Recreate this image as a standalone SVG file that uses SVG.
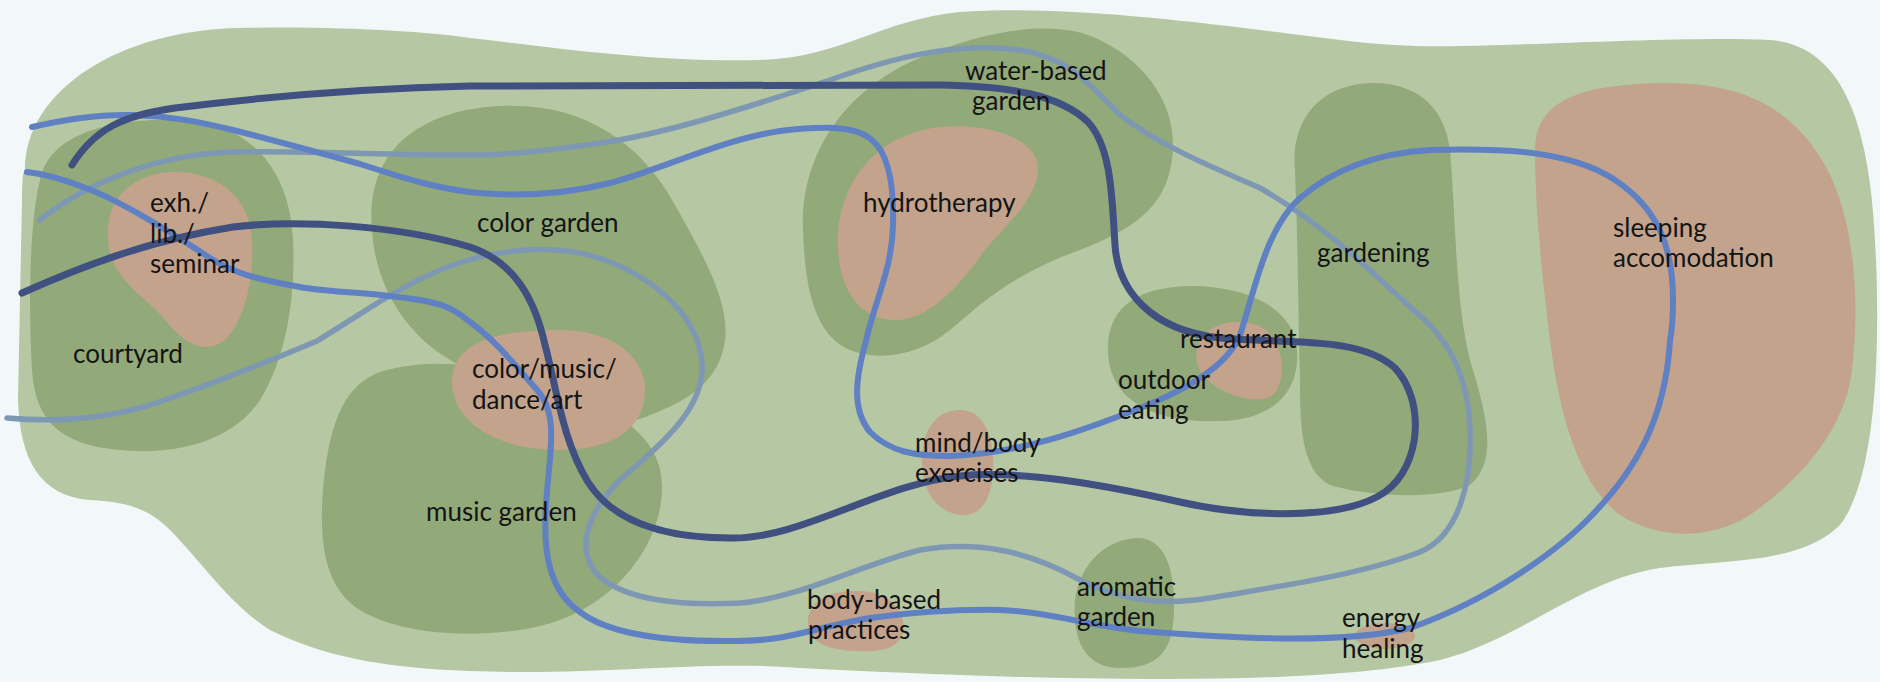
<svg xmlns="http://www.w3.org/2000/svg" width="1880" height="682" viewBox="0 0 1880 682">
<style>
.site{fill:#b6c7a3}
.zone{fill:#92a97a}
.core{fill:#c3a38c}
.path{fill:none;stroke-linecap:round;stroke-linejoin:round}
.navy{stroke:#3f5081;stroke-width:7}
.mid{stroke:#6080c4;stroke-width:6}
.pale{stroke:#7e98b3;stroke-width:5.5}
text{font-family:Lato,"Liberation Sans",sans-serif;font-size:26px;fill:#141414}
</style>
<rect width="1880" height="682" fill="#f2f7fa"/>
<g id="site">
<path class="site" d="M25,170 C25,90 120,30 240,28 C340,26 430,32 470,38 C560,48 650,62 760,60 C840,58 880,20 960,12 C1040,6 1150,16 1260,30 C1330,38 1380,48 1460,46 C1560,44 1700,36 1770,40 C1850,46 1872,140 1876,260 C1880,360 1875,480 1840,525 C1800,565 1720,560 1660,568 C1580,580 1520,640 1440,660 C1300,690 1000,678 800,668 C700,660 600,676 470,671 C380,668 320,655 270,630 C230,605 200,560 170,530 C150,510 130,502 90,500 C40,496 20,460 18,400 L22,200 C22,180 23,170 25,170 Z"/>
</g>
<g id="node-courtyard"><path class="zone" d="M40,180 C50,130 120,118 180,120 C250,122 290,170 293,240 C296,300 285,360 260,400 C230,445 170,455 120,450 C60,445 35,420 32,370 C28,300 30,220 40,180 Z"/></g>
<g id="node-color-garden"><path class="zone" d="M372,230 C365,150 420,110 500,106 C580,102 640,140 675,205 C700,250 730,300 725,340 C720,380 690,400 650,415 C600,440 500,390 450,360 C400,330 375,280 372,230 Z"/></g>
<g id="node-music-garden"><path class="zone" d="M380,372 C420,360 470,360 530,380 C600,400 665,430 662,490 C660,550 610,610 540,626 C480,640 400,635 360,610 C320,585 318,530 325,470 C332,420 345,385 380,372 Z"/></g>
<g id="node-water-based-garden"><path class="zone" d="M803,230 C800,150 850,80 940,50 C1000,28 1060,20 1100,40 C1160,70 1178,120 1172,160 C1165,210 1130,230 1080,250 C1010,275 980,305 950,330 C920,355 880,362 850,350 C815,335 805,290 803,230 Z"/></g>
<g id="node-outdoor-eating"><path class="zone" d="M1108,345 C1110,305 1140,287 1190,286 C1250,286 1295,310 1297,350 C1300,395 1270,420 1220,421 C1160,423 1106,405 1108,345 Z"/></g>
<g id="node-gardening"><path class="zone" d="M1295,170 C1290,120 1320,85 1370,83 C1420,82 1445,110 1450,150 C1456,220 1455,300 1470,360 C1485,410 1500,460 1470,485 C1440,500 1370,497 1330,485 C1300,470 1300,420 1300,380 C1298,310 1298,240 1295,170 Z"/></g>
<g id="node-aromatic-garden"><path class="zone" d="M1075,600 C1080,560 1110,538 1140,538 C1165,540 1175,570 1174,610 C1173,650 1160,668 1120,668 C1085,668 1072,640 1075,600 Z"/></g>
<g id="node-exh-lib-seminar"><path class="core" d="M108,240 C105,200 130,175 170,172 C215,170 250,195 252,240 C254,280 245,320 225,340 C205,355 185,345 165,320 C145,295 110,280 108,240 Z"/></g>
<g id="node-hydrotherapy"><path class="core" d="M838,250 C835,190 870,135 940,127 C990,122 1040,140 1038,170 C1036,200 1010,220 985,250 C960,285 930,320 895,320 C860,320 840,290 838,250 Z"/></g>
<g id="node-color-music-dance-art"><path class="core" d="M452,385 C450,345 490,330 560,330 C610,330 645,355 645,390 C645,430 610,450 560,450 C500,450 455,425 452,385 Z"/></g>
<g id="node-restaurant"><path class="core" d="M1197,350 C1202,322 1237,318 1257,325 C1282,335 1287,370 1277,390 C1267,405 1242,400 1222,390 C1202,380 1194,365 1197,350 Z"/></g>
<g id="node-mind-body"><path class="core" d="M922,460 C922,425 940,410 960,410 C985,410 995,440 993,470 C992,500 980,515 965,515 C940,515 922,495 922,460 Z"/></g>
<g id="node-body-based"><path class="core" d="M808,620 C810,595 840,588 870,592 C895,596 906,615 903,632 C900,648 880,653 855,651 C825,650 806,640 808,620 Z"/></g>
<g id="node-energy-healing"><ellipse class="core" cx="1385" cy="636" rx="30" ry="13"/></g>
<g id="node-sleeping"><path class="core" d="M1535,150 C1535,100 1580,85 1660,83 C1740,82 1790,105 1825,165 C1855,220 1860,300 1852,370 C1845,430 1800,480 1750,515 C1710,540 1660,540 1620,515 C1580,485 1560,420 1550,340 C1540,260 1535,200 1535,150 Z"/></g>
<g id="connectors">
<path class="path pale" d="M7,418 C50,422 100,420 150,405 C210,385 260,365 317,341 C360,315 400,285 450,266 C500,248 560,242 610,262 C660,282 700,320 702,365 C704,410 660,445 620,480 C590,510 575,545 595,572 C620,600 680,606 740,603 C800,598 860,565 920,550 C980,540 1030,552 1080,580 C1120,600 1160,606 1210,598 C1280,586 1360,575 1420,552 C1460,535 1472,480 1470,430 C1468,370 1445,335 1410,307 C1370,270 1320,222 1260,188 C1200,162 1160,145 1120,115 C1090,85 1070,58 1020,50 C960,42 900,55 830,80 C740,110 660,135 600,143 C540,152 500,155 470,155 C380,155 300,150 230,152 C160,155 90,180 40,220"/>
<path class="path mid" d="M32,127 C70,118 100,114 133,115 C170,116 200,122 233,130 C280,142 320,153 360,164 C400,177 440,190 480,193 C530,197 570,193 610,183 C660,170 720,140 780,131 C820,126 855,125 872,140 C890,155 894,190 893,225 C892,270 875,300 866,341 C855,380 852,410 870,432 C890,452 915,456 950,456 C1020,453 1080,432 1140,408 C1190,388 1228,365 1240,335 C1255,290 1265,230 1300,198 C1335,168 1380,153 1430,150 C1500,148 1570,150 1615,180 C1660,210 1673,250 1673,300 C1673,320 1672,330 1670,341 C1665,420 1635,470 1595,512 C1560,550 1490,600 1410,628 C1340,645 1230,638 1140,631 C1090,626 1050,612 1000,610 C950,609 900,614 870,618 C820,626 790,641 737,641 C670,642 610,635 580,612 C548,590 543,550 546,505 C549,455 560,415 537,390 C515,365 495,340 470,322 C455,310 445,305 430,302 C380,292 330,293 300,287 C260,280 235,274 210,258 C170,232 120,200 83,187 C60,178 45,174 27,172"/>
<path class="path navy" d="M72,165 C95,128 125,115 175,108 C270,96 380,88 470,86 L940,85 C1010,86 1060,95 1088,122 C1112,148 1112,200 1115,245 C1118,290 1150,330 1220,338 C1290,344 1360,336 1395,368 C1425,400 1422,465 1385,492 C1345,520 1250,518 1180,502 C1100,484 1020,470 960,476 C880,484 800,540 730,538 C660,538 612,520 588,482 C562,440 556,385 545,345 C535,300 515,262 470,247 C400,226 300,219 233,227 C150,240 80,267 22,293"/>
</g>
<g id="labels">
<text id="t-exh" x="150" y="212">exh./</text>
<text x="150" y="243">lib./</text>
<text x="150" y="273">seminar</text>
<text id="t-courtyard" x="73" y="363">courtyard</text>
<text id="t-color-garden" x="477" y="232">color garden</text>
<text id="t-cmda" x="472" y="378">color/music/</text>
<text x="472" y="409">dance/art</text>
<text id="t-music-garden" x="426" y="521">music garden</text>
<text id="t-water" x="965" y="80">water-based</text>
<text x="972" y="110">garden</text>
<text id="t-hydro" x="863" y="212">hydrotherapy</text>
<text id="t-restaurant" x="1180" y="348">restaurant</text>
<text id="t-outdoor" x="1118" y="389">outdoor</text>
<text x="1118" y="419">eating</text>
<text id="t-mind" x="915" y="452">mind/body</text>
<text x="915" y="482">exercises</text>
<text id="t-body" x="807" y="609">body-based</text>
<text x="808" y="639">practices</text>
<text id="t-aromatic" x="1077" y="596">aromatic</text>
<text x="1077" y="626">garden</text>
<text id="t-energy" x="1342" y="627">energy</text>
<text x="1342" y="658">healing</text>
<text id="t-gardening" x="1317" y="262">gardening</text>
<text id="t-sleeping" x="1613" y="237">sleeping</text>
<text x="1613" y="267">accomodation</text>
</g>
</svg>
